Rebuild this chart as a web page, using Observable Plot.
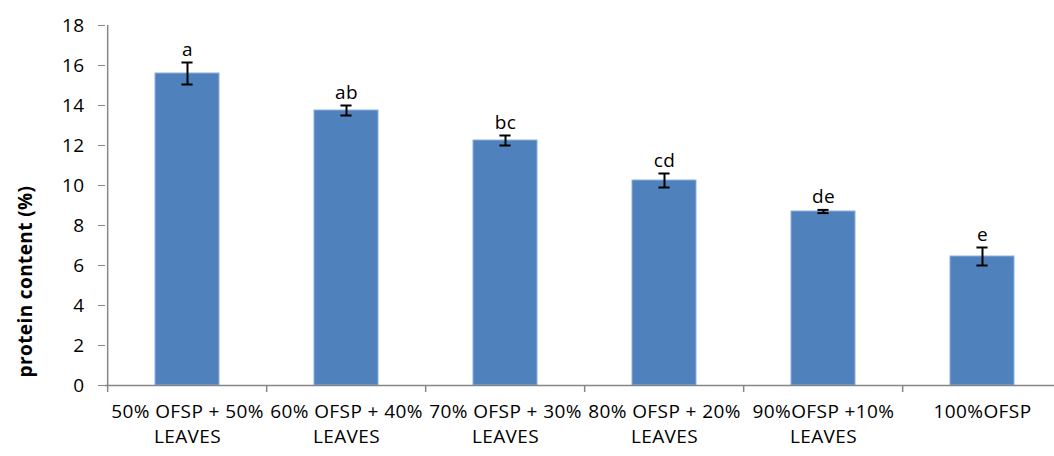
<!DOCTYPE html>
<html>
<head>
<meta charset="utf-8">
<script src="https://cdn.jsdelivr.net/npm/d3@7"></script>
<script src="https://cdn.jsdelivr.net/npm/@observablehq/plot@0.6"></script>
<style>
  html, body { margin: 0; padding: 0; background: #fff; }
  #chart svg { display: block; }
  #chart svg text { letter-spacing: 0.4px; }
</style>
</head>
<body>
<div id="chart"></div>
<script>
const categories = [
  "50% OFSP + 50%\nLEAVES",
  "60% OFSP + 40%\nLEAVES",
  "70% OFSP + 30%\nLEAVES",
  "80% OFSP + 20%\nLEAVES",
  "90%OFSP +10%\nLEAVES",
  "100%OFSP"
];
const means = [15.6, 13.75, 12.25, 10.25, 8.7, 6.45];
const errors = [0.55, 0.25, 0.25, 0.35, 0.08, 0.45];
const letters = ["a", "ab", "bc", "cd", "de", "e"];
const yTicks = [0, 2, 4, 6, 8, 10, 12, 14, 16, 18];
const yLabel = "protein content (%)";

const data = categories.map((c, i) => ({
  cat: c, mean: means[i], lo: means[i] - errors[i], hi: means[i] + errors[i], letter: letters[i]
}));

const W = 1054, H = 456;
const mL = 105, mR = -9, mT = 25, mB = 71;
const step = (W - mL - mR) / categories.length;
const bw = step * 0.4;
const capInset = (bw - 11) / 2;
const font = "'Open Sans', sans-serif";

const chart = Plot.plot({
  width: W,
  height: H,
  marginLeft: mL,
  marginRight: mR,
  marginTop: mT,
  marginBottom: mB,
  style: { fontFamily: font, fontSize: "18px", color: "#000", background: "#fff" },
  x: { domain: categories, paddingInner: 0.6, paddingOuter: 0.3, label: null },
  y: { domain: [0, 18], ticks: yTicks, label: null },
  marks: [
    Plot.barY(data, { x: "cat", y: "mean", fill: "#4f81bd", stroke: "#8eaedb", strokeWidth: 1 }),
    Plot.ruleX(data, { x: "cat", y1: "lo", y2: "hi", stroke: "#000", strokeWidth: 2 }),
    Plot.tickY(data, { x: "cat", y: "lo", stroke: "#000", strokeWidth: 2, insetLeft: capInset, insetRight: capInset }),
    Plot.tickY(data, { x: "cat", y: "hi", stroke: "#000", strokeWidth: 2, insetLeft: capInset, insetRight: capInset }),
    Plot.text(data, { x: "cat", y: "hi", text: "letter", dy: -13, fontSize: 19, fill: "#000" }),
    Plot.ruleY([0], { stroke: "#868686", strokeWidth: 1.5 }),
    Plot.ruleX([categories[0]], { x: d => d, dx: -step / 2, y1: 0, y2: 18, stroke: "#868686", strokeWidth: 1.5 }),
    Plot.axisY({ ticks: yTicks, tickSize: 7, tickPadding: 14, stroke: "#868686", fontSize: 19, fill: "#000", label: null }),
    Plot.axisX({ tickSize: 0, tickPadding: 15, fontSize: 19, fill: "#000", lineHeight: 1.32, label: null }),
    Plot.ruleX(categories, { x: d => d, y1: 0, y2: 0, dx: -step / 2, insetBottom: -7, stroke: "#868686", strokeWidth: 1.5 }),
    Plot.text([yLabel], { y: () => 5.2, frameAnchor: "left", textAnchor: "middle", rotate: -90, dx: -80, fontWeight: "bold", fontSize: 19, fill: "#000" })
  ]
});
document.getElementById("chart").appendChild(chart);
</script>
</body>
</html>
